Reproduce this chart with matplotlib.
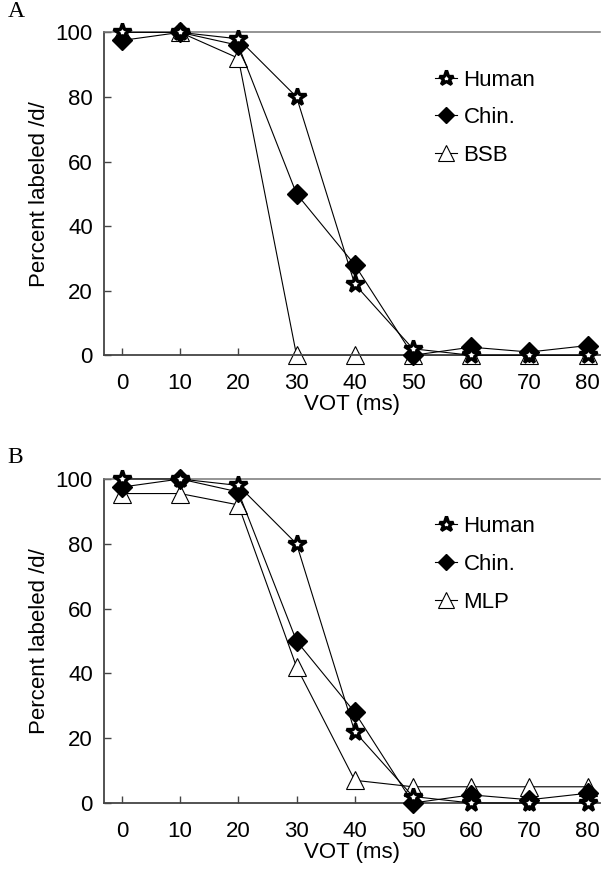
import numpy as np
import matplotlib
matplotlib.use('Agg')
import matplotlib.pyplot as plt

plt.rcParams['font.family'] = ['Liberation Sans', 'DejaVu Sans']

vot = [0, 10, 20, 30, 40, 50, 60, 70, 80]

human = [100, 100, 98, 80, 22, 2, 0, 0, 0]
chin = [97.5, 100, 96, 50, 28, 0, 2.5, 1, 3]
bsb = [100, 100, 92, 0, 0, 0, 0, 0, 0]
mlp = [95.5, 95.5, 92, 42, 7, 5, 5, 5, 5]

y_ticks = [0, 20, 40, 60, 80, 100]

fig = plt.figure(figsize=(6.04, 8.75), dpi=100)


def panel(rect, model, model_name, letter):
    ax = fig.add_axes(rect)
    ax.plot(vot, human, color='black', lw=0.8, marker='*', ms=13,
            mfc='white', mec='black', mew=2.4, label='Human', clip_on=False, zorder=4)
    ax.plot(vot, chin, color='black', lw=0.8, marker='D', ms=10,
            mfc='black', mec='black', label='Chin.', clip_on=False, zorder=3)
    ax.plot(vot, model, color='black', lw=0.8, marker='^', ms=13,
            mfc='white', mec='black', mew=0.8, label=model_name, clip_on=False, zorder=2)

    ax.set_xlim(-3.1, 82.1)
    ax.set_ylim(0, 100)
    ax.set_xticks(vot)
    ax.set_yticks(y_ticks)
    ax.tick_params(direction='in', length=5, width=1, labelsize=16, colors='#444444',
                   labelcolor='black')
    ax.tick_params(axis='y', pad=8)
    ax.tick_params(axis='x', pad=13)
    ax.spines['right'].set_visible(False)
    ax.spines['top'].set_color('#777777')
    ax.spines['top'].set_linewidth(1.1)
    for s in ['left', 'bottom']:
        ax.spines[s].set_color('#444444')
        ax.spines[s].set_linewidth(1.3)
    ax.set_xlabel('VOT (ms)', fontsize=16, labelpad=0)
    ax.set_ylabel('Percent labeled /d/', fontsize=16, labelpad=4)

    leg = ax.legend(loc='upper left', bbox_to_anchor=(0.667, 0.885), frameon=False,
                    fontsize=16, handlelength=1.0, handletextpad=0.3, markerscale=0.85,
                    labelspacing=0.75, borderaxespad=0, borderpad=0)
    for h in leg.legend_handles:
        h.set_linewidth(0.8)

    fig.text(0.013, rect[1] + rect[3] + 0.012, letter, fontsize=17,
             family='Liberation Serif', va='bottom')
    return ax


panel([0.172, 0.594, 0.821, 0.369], bsb, 'BSB', 'A')
panel([0.172, 0.0823, 0.821, 0.3703], mlp, 'MLP', 'B')

fig.savefig('out.png', dpi=100)
